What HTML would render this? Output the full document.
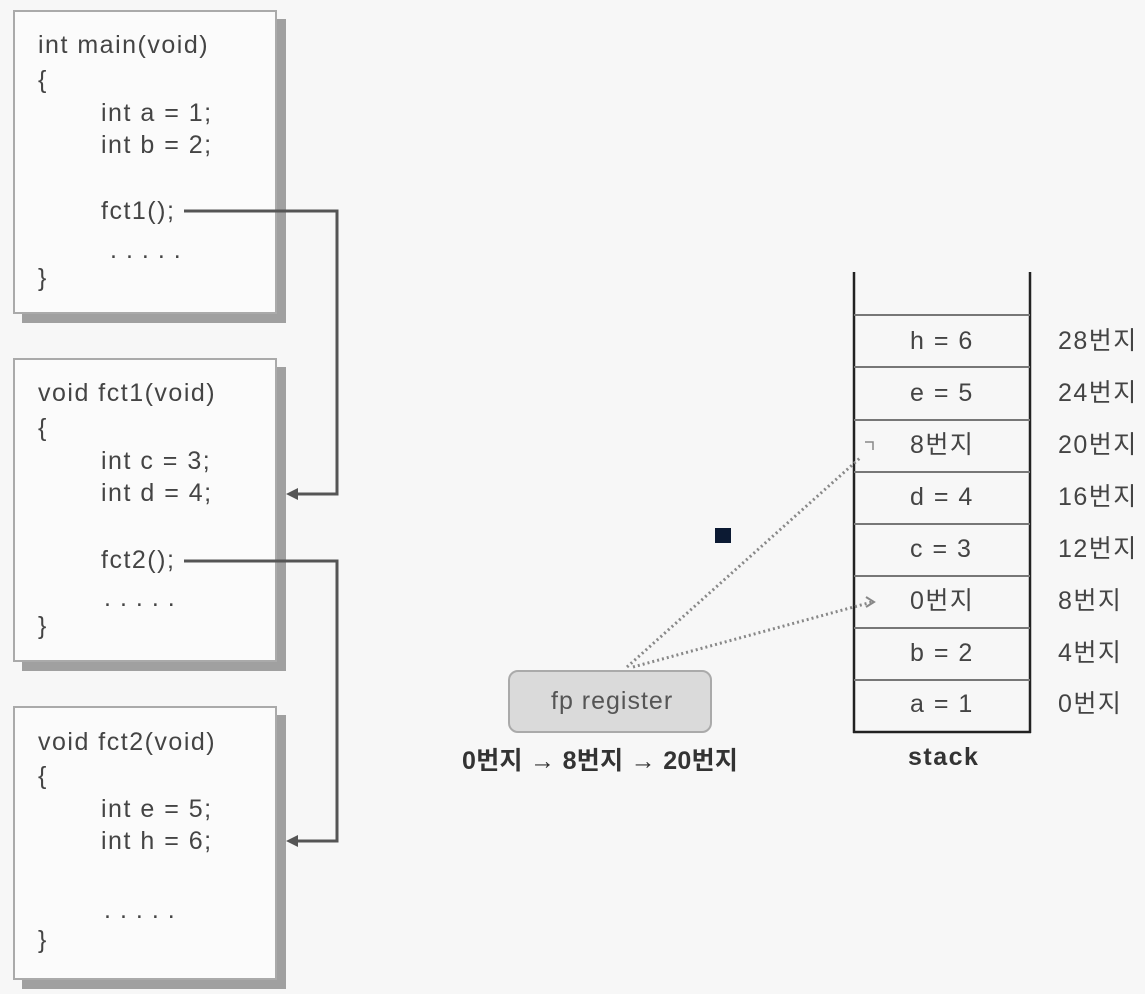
<!DOCTYPE html>
<html><head><meta charset="utf-8"><style>
body{margin:0;width:1145px;height:994px;background:#f7f7f7;position:relative;overflow:hidden;font-family:"Liberation Sans","Noto Sans CJK KR",sans-serif;color:#444}
.box{position:absolute;left:13px;width:260px;background:#fbfbfb;border:2px solid #aaa;box-shadow:9px 9px 0 #a0a0a0;}
.t{position:absolute;font-size:25px;line-height:30px;white-space:nowrap;letter-spacing:1.5px}
.d{letter-spacing:9px!important}
</style></head><body>
<div class="box" style="top:10px;height:300px"></div>
<div class="box" style="top:358px;height:300px"></div>
<div class="box" style="top:706px;height:270px"></div>

<div class="t" style="left:38px;top:30px">int main(void)</div>
<div class="t" style="left:38px;top:65px">{</div>
<div class="t" style="left:101px;top:98px">int a = 1;</div>
<div class="t" style="left:101px;top:130px">int b = 2;</div>
<div class="t" style="left:101px;top:196px">fct1();</div>
<div class="t d" style="left:110px;top:235px">.....</div>
<div class="t" style="left:38px;top:263px">}</div>

<div class="t" style="left:38px;top:378px">void fct1(void)</div>
<div class="t" style="left:38px;top:413px">{</div>
<div class="t" style="left:101px;top:446px">int c = 3;</div>
<div class="t" style="left:101px;top:478px">int d = 4;</div>
<div class="t" style="left:101px;top:545px">fct2();</div>
<div class="t d" style="left:104px;top:583px">.....</div>
<div class="t" style="left:38px;top:611px">}</div>

<div class="t" style="left:38px;top:727px">void fct2(void)</div>
<div class="t" style="left:38px;top:761px">{</div>
<div class="t" style="left:101px;top:794px">int e = 5;</div>
<div class="t" style="left:101px;top:826px">int h = 6;</div>
<div class="t d" style="left:104px;top:895px">.....</div>
<div class="t" style="left:38px;top:925px">}</div>

<svg width="1145" height="994" style="position:absolute;left:0;top:0">
<g fill="none" stroke="#555" stroke-width="3">
<polyline points="184,211 337,211 337,494 292,494"/>
<polyline points="184,561 337,561 337,841 292,841"/>
</g>
<polygon points="286,494 298,488 298,500" fill="#555"/>
<polygon points="286,841 298,835 298,847" fill="#555"/>
<g stroke="#222" stroke-width="2.5" fill="none">
<line x1="854" y1="272" x2="854" y2="733"/>
<line x1="1030" y1="272" x2="1030" y2="733"/>
<line x1="853" y1="732" x2="1031" y2="732"/>
</g>
<g stroke="#777" stroke-width="2">
<line x1="854" y1="315" x2="1030" y2="315"/>
<line x1="854" y1="367" x2="1030" y2="367"/>
<line x1="854" y1="420" x2="1030" y2="420"/>
<line x1="854" y1="472" x2="1030" y2="472"/>
<line x1="854" y1="524" x2="1030" y2="524"/>
<line x1="854" y1="576" x2="1030" y2="576"/>
<line x1="854" y1="628" x2="1030" y2="628"/>
<line x1="854" y1="680" x2="1030" y2="680"/>
</g>
<g stroke="#888" stroke-width="3" stroke-dasharray="2,3" fill="none">
<line x1="627" y1="667" x2="860" y2="458"/>
<line x1="633" y1="667" x2="872" y2="602"/>
</g>
<polyline points="866,597 874,602 866,607" fill="none" stroke="#888" stroke-width="2"/>
<polyline points="865,442 873,442 873,450" fill="none" stroke="#888" stroke-width="1.5"/>
<rect x="715" y="528" width="16" height="15" fill="#0c1a33"/>
<rect x="509" y="671" width="202" height="61" rx="9" fill="#dadada" stroke="#aaa" stroke-width="2"/>
</svg>
<div class="t" style="left:551px;top:686px;color:#555;letter-spacing:1px">fp register</div>
<div class="t" style="left:462px;top:746px;font-weight:bold;color:#333;letter-spacing:0.3px">0번지 → 8번지 → 20번지</div>
<div class="t" style="left:908px;top:742px;font-weight:bold;color:#333">stack</div>

<div class="t" style="left:910px;top:326px">h = 6</div>
<div class="t" style="left:910px;top:378px">e = 5</div>
<div class="t" style="left:910px;top:430px">8번지</div>
<div class="t" style="left:910px;top:482px">d = 4</div>
<div class="t" style="left:910px;top:534px">c = 3</div>
<div class="t" style="left:910px;top:586px">0번지</div>
<div class="t" style="left:910px;top:638px">b = 2</div>
<div class="t" style="left:910px;top:689px">a = 1</div>

<div class="t" style="left:1058px;top:326px">28번지</div>
<div class="t" style="left:1058px;top:378px">24번지</div>
<div class="t" style="left:1058px;top:430px">20번지</div>
<div class="t" style="left:1058px;top:482px">16번지</div>
<div class="t" style="left:1058px;top:534px">12번지</div>
<div class="t" style="left:1058px;top:586px">8번지</div>
<div class="t" style="left:1058px;top:638px">4번지</div>
<div class="t" style="left:1058px;top:689px">0번지</div>
</body></html>
